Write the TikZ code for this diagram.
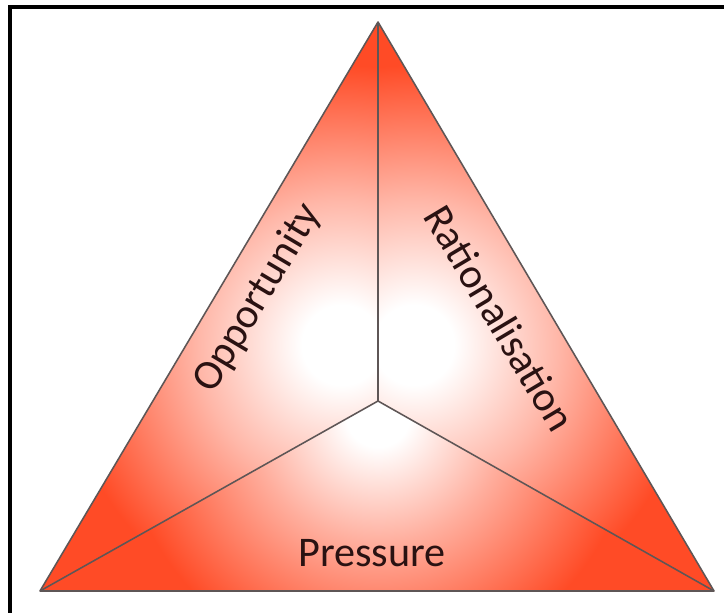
\documentclass[tikz,border=0pt]{standalone}
\usepackage{fontspec}
\setmainfont{Carlito}
\usepackage{xcolor,tikz}
\definecolor{firered}{HTML}{FF4B26}
\definecolor{edgegray}{HTML}{5E5656}
\definecolor{labeldark}{HTML}{2A1212}
\pgfdeclareradialshading{glow}{\pgfpoint{0bp}{0bp}}{color(0bp)=(white); color(2.5bp)=(white); color(9bp)=(firered!40); color(17.5bp)=(firered); color(50bp)=(firered)}
\pgfdeclareradialshading{glowlow}{\pgfpoint{0bp}{0bp}}{color(0bp)=(white); color(2bp)=(white); color(8bp)=(firered!45); color(16bp)=(firered); color(50bp)=(firered)}
\tikzset{
  facelabel/.style={text=labeldark,font=\fontsize{30}{36}\selectfont,inner sep=0pt},
  facerim/.style={draw=edgegray,line width=1.1pt,line join=round}
}

\begin{document}
\begin{tikzpicture}[x=0.025cm,y=-0.025cm]
\useasboundingbox (0,0) rectangle (724,613);
\fill[white] (0,0) rectangle (724,613);
\draw[line width=2.8pt] (724,7) -- (10,7) -- (10,613);
\coordinate (apex) at (378,22);
\coordinate (lowleft) at (40,591);
\coordinate (lowright) at (714,591);
\coordinate (hub) at (378,401);
\fill[firered] (apex) -- (lowleft) -- (lowright) -- cycle;
% three shaded faces
\begin{scope}
\clip (apex) -- (hub) -- (lowleft) -- cycle;
\fill[shading=glow] (342,345) circle (400);
\end{scope}
\begin{scope}
\clip (apex) -- (hub) -- (lowright) -- cycle;
\fill[shading=glow] (414,345) circle (400);
\end{scope}
\begin{scope}
\clip (lowleft) -- (hub) -- (lowright) -- cycle;
\fill[shading=glowlow] (378,415) circle (400);
\end{scope}
\draw[facerim] (apex) -- (lowleft) -- (lowright) -- cycle;
\draw[facerim] (apex) -- (hub) (hub) -- (lowleft) (hub) -- (lowright);
\node[facelabel,rotate=59.2] (opportunity) at (258,298) {Opportunity};
\node[facelabel,rotate=-59.2] (rationalisation) at (500,318) {Rationalisation};
\node[facelabel] (pressure) at (372,553) {Pressure};
\end{tikzpicture}
\end{document}
